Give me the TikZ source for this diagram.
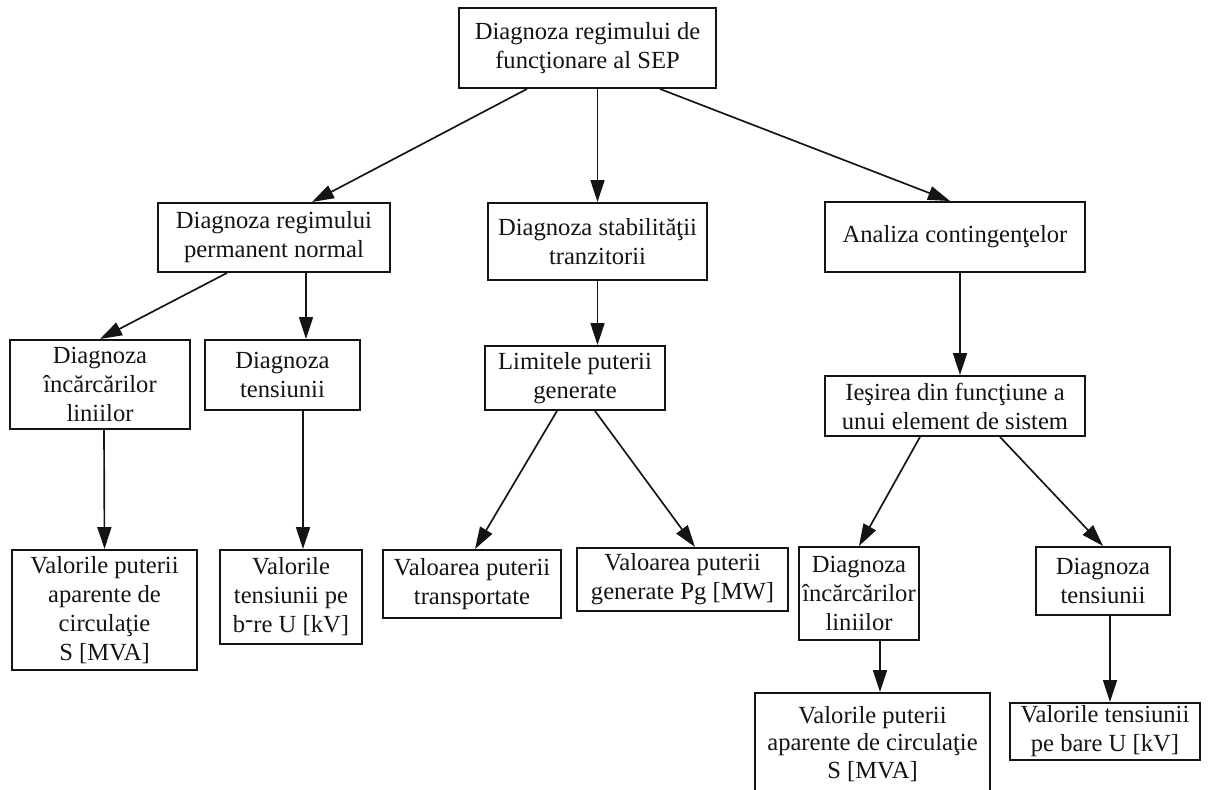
\documentclass[tikz,border=0pt]{standalone}
\usepackage{fontspec}
\setmainfont{Liberation Serif}
\usepackage{xcolor}
\usepackage{tikz}
\usetikzlibrary{arrows.meta,positioning}
\definecolor{diagInk}{RGB}{20,20,20}
\definecolor{diagWhite}{RGB}{255,255,255}
\tikzset{
  diagbox/.style={draw=diagInk,line width=1.1pt,fill=diagWhite,text=diagInk,align=center,inner sep=0pt,font=\fontsize{14}{16.5}\selectfont},
  diagflow/.style={-{Triangle[length=4.4mm,width=2.8mm]},draw=diagInk,line width=0.95pt},
}

\begin{document}
\begin{tikzpicture}[x=1cm,y=1cm]
\useasboundingbox (0,0) rectangle (24.16,15.80);

% Level 1 and 2.
\node[diagbox,minimum width=5.14cm,minimum height=1.60cm] (top) at (11.75,14.84) {Diagnoza regimului de\\funcţionare al SEP};
\node[diagbox,minimum width=4.64cm,minimum height=1.38cm] (perm) at (5.48,11.05) {Diagnoza regimului\\permanent normal};
\node[diagbox,minimum width=4.38cm,minimum height=1.54cm] (stab) at (11.95,10.97) {Diagnoza stabilităţii\\tranzitorii};
\node[diagbox,minimum width=5.20cm,minimum height=1.40cm] (anal) at (19.10,11.06) {Analiza contingenţelor};
\draw[diagflow] ([xshift=-1.21cm]top.south) -- ([xshift=0.76cm]perm.north);
\draw[diagflow] (stab.north |- top.south) -- (stab.north);
\draw[diagflow] ([xshift=1.45cm]top.south) -- ([xshift=-0.10cm]anal.north);

% Level 3.
\node[diagbox,minimum width=3.60cm,minimum height=1.78cm] (incL) at (2.00,8.11) {Diagnoza\\încărcărilor\\liniilor};
\node[diagbox,minimum width=3.10cm,minimum height=1.40cm] (tenL) at (5.65,8.30) {Diagnoza\\tensiunii};
\node[diagbox,minimum width=3.60cm,minimum height=1.28cm] (lim) at (11.50,8.24) {Limitele puterii\\generate};
\node[diagbox,minimum width=5.20cm,minimum height=1.20cm] (ies) at (19.10,7.68) {Ieşirea din funcţiune a\\unui element de sistem};
\draw[diagflow] ([xshift=-0.94cm]perm.south) -- (incL.north);
\draw[diagflow] ([xshift=0.64cm]perm.south) -- ([xshift=0.47cm]tenL.north);
\draw[diagflow] (stab.south) -- ([xshift=0.45cm]lim.north);
\draw[diagflow] ([xshift=0.10cm]anal.south) -- ([xshift=0.10cm]ies.north);

% Level 4.
\node[diagbox,minimum width=3.70cm,minimum height=2.40cm] (valS) at (2.09,3.60) {Valorile puterii\\aparente de\\circulaţie\\S [MVA]};
\node[diagbox,minimum width=2.84cm,minimum height=1.88cm] (valU) at (5.82,3.86) {Valorile\\tensiunii pe\\b\raisebox{0.5ex}{-}re U [kV]};
\node[diagbox,minimum width=3.56cm,minimum height=1.36cm] (valT) at (9.44,4.12) {Valoarea puterii\\transportate};
\node[diagbox,minimum width=4.22cm,minimum height=1.26cm] (valG) at (13.65,4.21) {Valoarea puterii\\generate Pg [MW]};
\node[diagbox,minimum width=2.40cm,minimum height=1.86cm] (incR) at (17.18,3.93) {Diagnoza\\încărcărilor\\liniilor};
\node[diagbox,minimum width=2.68cm,minimum height=1.36cm] (tenR) at (22.06,4.18) {Diagnoza\\tensiunii};
\draw[diagflow] ([xshift=0.08cm]incL.south) -- (valS.north);
\draw[diagflow] ([xshift=0.41cm]tenL.south) -- ([xshift=0.24cm]valU.north);
\draw[diagflow] ([xshift=-0.36cm]lim.south) -- ([xshift=0.06cm]valT.north);
\draw[diagflow] ([xshift=0.40cm]lim.south) -- ([xshift=0.25cm]valG.north);
\draw[diagflow] ([xshift=-0.70cm]ies.south) -- (incR.north);
\draw[diagflow] ([xshift=0.90cm]ies.south) -- (tenR.north);

% Level 5 (runs past the lower edge, as in the scan).
\node[diagbox,minimum width=4.70cm,minimum height=2.04cm,font=\fontsize{14}{15.5}\selectfont] (valS2) at (17.45,0.92) {Valorile puterii\\aparente de circulaţie\\S [MVA]};
\node[diagbox,minimum width=3.80cm,minimum height=1.14cm] (valU2) at (22.10,1.17) {Valorile tensiunii\\pe bare U [kV]};
\draw[diagflow] ([xshift=0.42cm]incR.south) -- ([xshift=0.15cm]valS2.north);
\draw[diagflow] ([xshift=0.14cm]tenR.south) -- ([xshift=0.10cm]valU2.north);
\end{tikzpicture}
\end{document}
